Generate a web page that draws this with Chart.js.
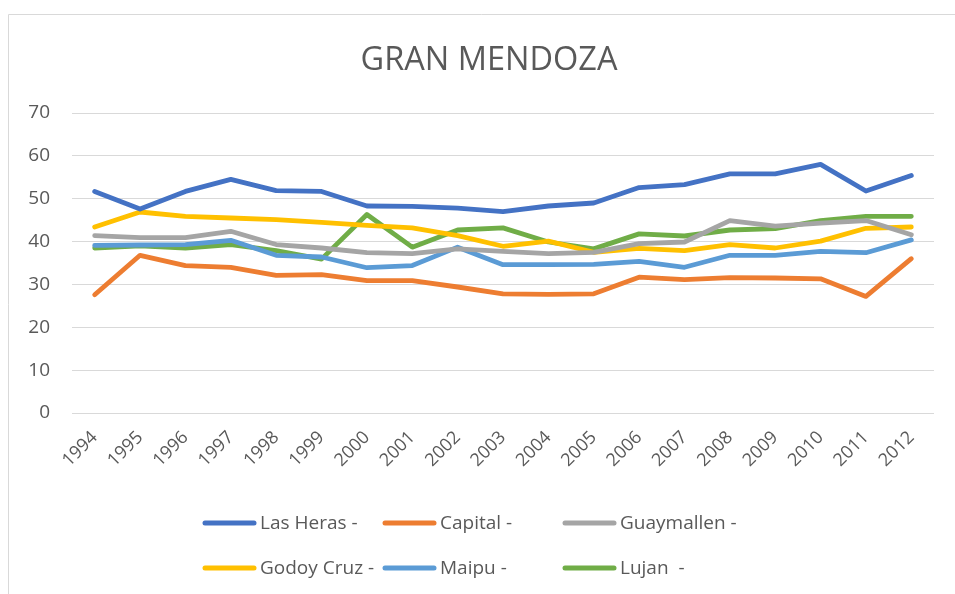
<!DOCTYPE html>
<html><head><meta charset="utf-8">
<script src="https://cdn.jsdelivr.net/npm/chart.js@4.4.0/dist/chart.umd.min.js"></script>
<style>html,body{margin:0;padding:0;background:#fff;}</style>
</head><body>
<canvas id="c" width="955" height="594" style="width:955px;height:594px;display:block"></canvas>
<script>
const years = ['1994','1995','1996','1997','1998','1999','2000','2001','2002','2003','2004','2005','2006','2007','2008','2009','2010','2011','2012'];
const lasHeras   = [51.7,47.6,51.7,54.5,51.9,51.7,48.3,48.2,47.8,47.0,48.3,49.0,52.6,53.3,55.8,55.8,58.0,51.8,55.4];
const capital    = [27.6,36.8,34.4,34.0,32.1,32.3,30.9,30.9,29.4,27.8,27.7,27.8,31.7,31.1,31.6,31.5,31.3,27.2,36.0];
const guaymallen = [41.4,40.9,40.9,42.4,39.3,38.5,37.4,37.2,38.3,37.7,37.2,37.5,39.5,39.9,44.9,43.6,44.3,44.9,41.6];
const godoyCruz  = [43.4,46.9,45.9,45.5,45.1,44.5,43.8,43.2,41.4,38.9,40.1,37.5,38.4,37.9,39.3,38.5,40.1,43.1,43.4];
const maipu      = [39.1,39.2,39.3,40.3,36.8,36.4,33.9,34.4,38.7,34.6,34.6,34.7,35.4,34.0,36.8,36.8,37.7,37.4,40.4];
const lujan      = [38.5,39.0,38.5,39.3,37.9,35.9,46.3,38.7,42.7,43.2,39.9,38.3,41.8,41.3,42.7,43.0,44.9,45.9,45.9];
const seriesNames = ['Las Heras -','Capital -','Guaymallen -','Godoy Cruz -','Maipu -','Lujan  -'];
const seriesColors = ['#4472C4','#ED7D31','#A5A5A5','#FFC000','#5B9BD5','#70AD47'];
const yTicks = [0,10,20,30,40,50,60,70];
const chartTitle = 'GRAN MENDOZA';

const FONT = "'Open Sans', sans-serif";
const seriesValues = [lasHeras, capital, guaymallen, godoyCruz, maipu, lujan];

const decor = {
  id: 'decor',
  afterDraw(chart) {
    const ctx = chart.ctx;
    ctx.save();
    ctx.strokeStyle = '#D9D9D9';
    ctx.lineWidth = 1;
    ctx.beginPath();
    ctx.moveTo(8.5, 594); ctx.lineTo(8.5, 14.5); ctx.lineTo(955, 14.5);
    ctx.stroke();
    ctx.fillStyle = '#595959';
    ctx.font = "32.5px " + FONT;
    ctx.textAlign = 'center';
    ctx.textBaseline = 'alphabetic';
    ctx.fillText(chartTitle, 489, 70);
    const cols = [203, 383, 563];
    const rows = [523, 568];
    ctx.font = "19px " + FONT;
    ctx.textAlign = 'left';
    ctx.textBaseline = 'middle';
    chart.data.datasets.forEach((ds, i) => {
      const x = cols[i % 3], y = rows[Math.floor(i / 3)];
      ctx.strokeStyle = ds.borderColor;
      ctx.lineWidth = 5;
      ctx.lineCap = 'round';
      ctx.beginPath();
      ctx.moveTo(x + 2, y); ctx.lineTo(x + 51, y);
      ctx.stroke();
      ctx.fillStyle = '#595959';
      ctx.fillText(ds.label, x + 57, y + 1);
    });
    ctx.restore();
  }
};

new Chart(document.getElementById('c'), {
  type: 'line',
  data: {
    labels: years,
    datasets: seriesValues.map((vals, i) => ({
      label: seriesNames[i],
      data: vals,
      borderColor: seriesColors[i],
      backgroundColor: seriesColors[i],
      borderWidth: 4.8,
      pointRadius: 0,
      tension: 0,
      borderCapStyle: 'round',
      borderJoinStyle: 'round',
      fill: false
    }))
  },
  options: {
    responsive: false,
    animation: false,
    layout: { padding: { left: 20, right: 21, top: 113, bottom: 0 } },
    plugins: { legend: { display: false }, title: { display: false }, tooltip: { enabled: false } },
    scales: {
      x: {
        offset: true,
        grid: { display: false, drawTicks: false },
        border: { display: false },
        ticks: { color: '#595959', font: { family: FONT, size: 18 }, minRotation: 45, maxRotation: 45, padding: 14, autoSkip: false },
        afterFit(scale) { scale.height = 181; }
      },
      y: {
        min: 0, max: 70,
        afterBuildTicks(scale) { scale.ticks = yTicks.map(v => ({ value: v })); },
        grid: { color: '#D9D9D9', lineWidth: 1, drawTicks: false },
        border: { display: false },
        ticks: { color: '#595959', font: { family: FONT, size: 19 }, padding: 22 },
        afterFit(scale) { scale.width = 52; }
      }
    }
  },
  plugins: [decor]
});
</script>
</body></html>
